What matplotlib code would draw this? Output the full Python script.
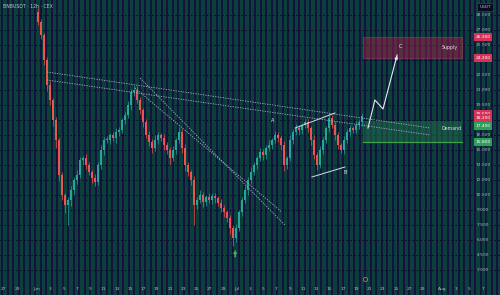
import matplotlib
matplotlib.use('Agg')
import matplotlib.pyplot as plt
from matplotlib.patches import Rectangle
import numpy as np

title = 'BNBUSDT · 12h · CEX'

# candle closes (one candle per index), price units
closes = [278, 265, 240, 215, 200, 180, 160, 125, 105, 95,
          100, 110, 120, 125, 140, 142, 135, 128, 122, 118,
          135, 150, 160, 160, 165, 162, 168, 170, 180, 185,
          195, 208, 210, 200, 190, 178, 165, 158, 152, 160,
          165, 162, 155, 150, 142, 150, 160, 168, 152, 135,
          128, 120, 95, 100, 105, 98, 103, 100, 104, 102,
          97, 92, 88, 82, 72, 62, 72, 88, 100, 110,
          120, 128, 135, 142, 148, 145, 152, 155, 160, 165,
          162, 155, 135, 142, 160, 168, 172, 170, 175, 178,
          172, 160, 145, 135, 150, 160, 172, 182, 175, 165,
          155, 150, 160, 168, 172, 170, 175, 178, 184]
first_open = 288
up_wick = [4, 3, 2, 3, 4, 2, 3, 2, 3, 2,
           3, 4, 3, 5, 3, 2, 4, 3, 2, 4,
           3, 5, 3, 4, 2, 3, 4, 3, 2, 3,
           4, 3, 5, 4, 3, 2, 3, 4, 3, 5,
           3, 2, 4, 3, 3, 4, 2, 5, 3, 4,
           3, 2, 4, 3, 5, 3, 2, 4, 3, 3,
           2, 4, 3, 2, 3, 3, 4, 2, 3, 4,
           3, 5, 3, 2, 4, 3, 3, 5, 2, 4,
           3, 3, 4, 2, 5, 3, 4, 3, 2, 4,
           3, 2, 5, 3, 4, 3, 2, 5, 3, 4,
           3, 2, 4, 3, 3, 2, 4, 3, 3]
dn_wick = [3, 4, 5, 6, 5, 6, 8, 6, 5, 8,
           20, 6, 5, 4, 3, 5, 4, 3, 5, 4,
           3, 4, 5, 3, 4, 3, 5, 4, 3, 4,
           3, 5, 4, 3, 4, 5, 3, 4, 5, 3,
           4, 3, 5, 4, 6, 3, 4, 3, 5, 6,
           4, 5, 20, 4, 3, 5, 4, 3, 4, 5,
           3, 4, 5, 4, 6, 8, 4, 3, 4, 3,
           5, 4, 3, 4, 3, 5, 4, 3, 4, 3,
           4, 5, 6, 4, 3, 4, 3, 5, 4, 3,
           4, 5, 4, 5, 3, 4, 3, 4, 3, 5,
           4, 3, 4, 3, 4, 3, 3, 4, 4]

# trend lines: ((x0, p0), (x1, p1)) in candle index / price
flat_lines = [((3, 228), (130.7, 172)), ((3, 220), (130.7, 165))]
steep_lines = [((32.3, 212), (81.3, 88)), ((34, 222), (82.3, 75))]
wedge_lines = [((85.7, 172), (99, 187)), ((91.3, 123), (102.3, 133))]
proj_x = [110, 112.3, 115, 120]
proj_p = [172, 200, 191, 247]
wave_labels = [('A', 78.3, 179), ('B', 102.3, 128), ('C', 120.7, 253)]

supply = (242, 263)
demand = (158, 179)
zone_x = (108.3, 141.3)

price_tags = [(263, '#d6325a'), (242, '#d6325a'), (186, '#d6325a'),
              (182, '#d6325a'), (174, '#2e9e5b'), (158, '#2e9e5b')]
grid_prices = [285, 270, 255, 240, 225, 210, 195, 180, 165, 150,
               135, 120, 105, 90, 75, 60, 45, 30]

# time labels: day offset from Jun 1 and text
tick_days = [-5, -3, 0, 2, 4, 6, 8, 10, 12, 14, 16, 18, 20, 22, 24, 26, 28,
             30, 32, 34, 36, 38, 40, 42, 44, 46, 48, 50, 52, 54, 56, 58,
             61, 63, 65, 67]
tick_text = ['27', '29', 'Jun', '3', '5', '7', '9', '11', '13', '15', '17',
             '19', '21', '23', '25', '27', '29', 'Jul', '3', '5', '7', '9',
             '11', '13', '15', '17', '19', '21', '23', '25', '27', '29',
             'Aug', '3', '5', '7']

TEAL = '#0b3f39'
NAVY = '#15123f'
UP = '#26a69a'
DOWN = '#ef5350'
TXT = '#b4b8c6'

W, H = 500, 295
fig = plt.figure(figsize=(5, 2.95), dpi=100)
fig.patch.set_facecolor(TEAL)

# striped backdrop
bg = fig.add_axes([0, 0, 1, 1], zorder=0)
bg.set_xlim(0, W)
bg.set_ylim(0, H)
bg.axis('off')
for xs in np.arange(1, W, 5.5):
    bg.axvspan(xs, xs + 2, color=NAVY, lw=0)

ax = fig.add_axes([0, 12 / H, 1, 283 / H], zorder=1)
ax.set_facecolor('none')
ax.set_xlim(-38 / 3, (W - 38) / 3)
ax.set_ylim(17, 300)
for s in ax.spines.values():
    s.set_visible(False)
ax.set_yticks([])

for g in grid_prices:
    ax.axhline(g, color='#070726', lw=0.7, ls=(0, (1.5, 2.5)), zorder=1)
ax.axhline(17.5, color='#070726', lw=0.7, ls=(0, (1.5, 2.5)))

closes = np.array(closes, dtype=float)
opens = np.concatenate([[first_open], closes[:-1]])
highs = np.maximum(opens, closes) + np.array(up_wick)
lows = np.minimum(opens, closes) - np.array(dn_wick)
idx = np.arange(len(closes))
cols = [UP if c >= o else DOWN for o, c in zip(opens, closes)]
ax.vlines(idx, lows, highs, colors=cols, lw=0.5, zorder=3)
ax.bar(idx, np.maximum(np.abs(closes - opens), 1.2), bottom=np.minimum(opens, closes),
       width=0.65, color=cols, lw=0, zorder=4)

for (x0, p0), (x1, p1) in flat_lines + steep_lines:
    ax.plot([x0, x1], [p0, p1], color='#a9aec8', lw=0.6, ls=(0, (1.5, 1.5)), zorder=5)
for (x0, p0), (x1, p1) in wedge_lines:
    ax.plot([x0, x1], [p0, p1], color='#d8dae6', lw=0.7, zorder=5)

# zones
ax.add_patch(Rectangle((zone_x[0], supply[0]), zone_x[1] - zone_x[0], supply[1] - supply[0],
                       facecolor='#b01a48', alpha=0.45, edgecolor='#d0406a', lw=0.6, zorder=2))
ax.add_patch(Rectangle((zone_x[0], demand[0]), zone_x[1] - zone_x[0], demand[1] - demand[0],
                       facecolor='#1f6b4a', alpha=0.55, lw=0, zorder=2))
ax.plot(zone_x, [demand[0]] * 2, color='#43a047', lw=0.9, zorder=3)
ax.text(137.3, sum(supply) / 2, 'Supply', color='#e0e0e8', fontsize=3.4, ha='center', va='center', zorder=6)
ax.text(138, 172, 'Demand', color='#e0e0e8', fontsize=3.4, ha='center', va='center', zorder=6)

# projection
ax.plot(proj_x[:-1] + [proj_x[-1] - 0.3], proj_p[:-1] + [proj_p[-1] - 2], color='#e8e8f0', lw=0.8, zorder=6)
ax.annotate('', xy=(proj_x[-1], proj_p[-1]), xytext=(proj_x[-2] + 4, proj_p[-2] + 46),
            arrowprops=dict(arrowstyle='-|>', color='#e8e8f0', lw=0.8, mutation_scale=4), zorder=6)
for t, x, p in wave_labels:
    ax.text(x, p, t, color='#e8e8f0', fontsize=3.6, ha='center', va='center', zorder=6)

ax.annotate('', xy=(65.7, 53), xytext=(65.7, 40),
            arrowprops=dict(arrowstyle='simple', color='#4caf50', mutation_scale=6, lw=0), zorder=6)
ax.plot([109], [21], marker='o', ms=3, mfc='none', mec='#e06a3a', mew=0.6, zorder=6)

# price scale on the right
tr = ax.get_yaxis_transform()
for g in grid_prices:
    if min(abs(g - p) for p, _ in price_tags) < 7:
        continue
    ax.text(0.966, g, f'{g / 10:.3f}', transform=tr, color=TXT, fontsize=3.2,
            ha='center', va='center', zorder=6)
for p, c in price_tags:
    ax.text(0.966, p, f'{p / 10:.3f}', transform=tr, color='white', fontsize=3.2,
            ha='center', va='center', zorder=7,
            bbox=dict(boxstyle='square,pad=0.35', fc=c, ec='none'))
fig.text(0.97, 0.983, 'USDT', color=TXT, fontsize=3.2, ha='center', va='top',
         bbox=dict(boxstyle='square,pad=0.4', fc='#0a0a22', ec='#444a60', lw=0.4))
fig.text(0.006, 0.985, title, color='#c0c4d0', fontsize=3.3, ha='left', va='top')

# time axis
ax.set_xticks([(37 + 6.65 * d - 38) / 3 for d in tick_days])
ax.set_xticklabels(tick_text)
ax.tick_params(axis='x', length=0, labelsize=3.2, colors=TXT, pad=3)

fig.savefig('out.png', dpi=100, facecolor=TEAL)
